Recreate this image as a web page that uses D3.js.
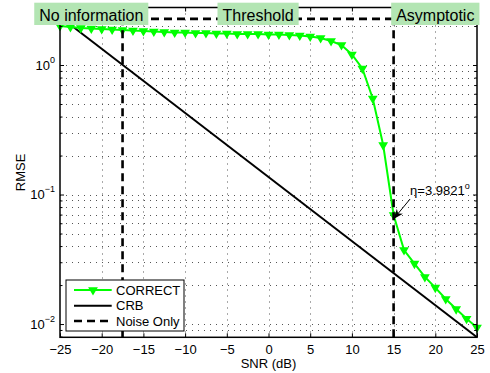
<!DOCTYPE html>
<html>
<head>
<meta charset="utf-8">
<script src="https://cdn.jsdelivr.net/npm/d3@7"></script>
<style>
  body { margin: 0; background: #fff; }
  text { font-family: 'Liberation Sans', Arial, sans-serif; fill: #000; }
</style>
</head>
<body>
<div id="chart"></div>
<script>
// data
const snrDb = [-25, -23.75, -22.5, -21.25, -20, -18.75, -17.5, -16.25, -15, -13.75,
  -12.5, -11.25, -10, -8.75, -7.5, -6.25, -5, -3.75, -2.5, -1.25,
  0, 1.25, 2.5, 3.75, 5, 6.25, 7.5, 8.75, 10, 11.25,
  12.5, 13.75, 15, 16.25, 17.5, 18.75, 20, 21.25, 22.5, 23.75, 25];
const rmseCorrect = [2.001, 1.966, 1.931, 1.914, 1.897, 1.880, 1.864, 1.847, 1.831, 1.814,
  1.798, 1.782, 1.782, 1.767, 1.767, 1.751, 1.751, 1.736, 1.736, 1.736,
  1.720, 1.720, 1.705, 1.690, 1.660, 1.616, 1.532, 1.427, 1.205, 0.940,
  0.551, 0.241, 0.0695, 0.0373, 0.0293, 0.0231, 0.0191, 0.0156, 0.01305, 0.0110, 0.0094];
const crbSnrDb = [-25, 25];
const rmseCrb = [2.36, 0.0079];
const noiseOnlyRmse = 2.27;
const regionEdgesDb = [-25, -17.5, 15, 25];
const regionLabels = ['No information', 'Threshold', 'Asymptotic'];
const xTicks = [-25, -20, -15, -10, -5, 0, 5, 10, 15, 20, 25];
const yMajorTicks = [0.01, 0.1, 1];
const yTickExp = ['\u22122', '\u22121', '0'];
const yDomain = [0.0079, 2.78];
const legendLabels = ['CORRECT', 'CRB', 'Noise Only'];
const etaSnr = 15;
const etaText = '\u03b7=3.9821';

const W = 490, H = 373;
const pLeft = 60, pRight = 477, pTop = 7.5, pBottom = 337.3;
const green = '#00ff00';
const labelFill = '#b3e5b3';

const svg = d3.select('#chart').append('svg')
  .attr('width', W).attr('height', H);

svg.append('rect').attr('width', W).attr('height', H).attr('fill', '#fff');

const x = d3.scaleLinear().domain([-25, 25]).range([pLeft, pRight]);
const y = d3.scaleLog().domain(yDomain).range([pBottom, pTop]);

const allYTicks = y.ticks().filter(v => v >= yDomain[0] && v <= yDomain[1]);
const minorYTicks = allYTicks.filter(v => !yMajorTicks.some(m => Math.abs(m - v) < 1e-9));

// grid
const grid = svg.append('g').attr('stroke', '#555').attr('stroke-width', 1)
  .attr('stroke-dasharray', '1,5');
grid.selectAll('.gx').data(xTicks.slice(1, -1)).join('line')
  .attr('x1', d => Math.round(x(d)) + 0.5).attr('x2', d => Math.round(x(d)) + 0.5)
  .attr('y1', pTop).attr('y2', pBottom);
grid.selectAll('.gy').data(allYTicks).join('line')
  .attr('x1', pLeft).attr('x2', pRight)
  .attr('y1', d => Math.round(y(d)) + 0.5).attr('y2', d => Math.round(y(d)) + 0.5);

// CRB
const line = d3.line().x(d => x(d[0])).y(d => y(d[1]));
svg.append('path')
  .datum(crbSnrDb.map((s, i) => [s, rmseCrb[i]]))
  .attr('d', line).attr('fill', 'none').attr('stroke', '#000').attr('stroke-width', 2);

// CORRECT
const correct = snrDb.map((s, i) => [s, rmseCorrect[i]]);
svg.append('path').datum(correct)
  .attr('d', line).attr('fill', 'none').attr('stroke', green).attr('stroke-width', 2);
const tri = 'M-3.5,-2L3.5,-2L0,4Z';
svg.append('g').selectAll('path').data(correct).join('path')
  .attr('d', tri)
  .attr('transform', d => `translate(${x(d[0])},${y(d[1])})`)
  .attr('fill', green).attr('stroke', green).attr('stroke-width', 1.6);

// noise only + region boundaries
const dashed = svg.append('g').attr('stroke', '#000').attr('stroke-width', 2.6)
  .attr('stroke-dasharray', '8,5').attr('fill', 'none');
dashed.append('line')
  .attr('x1', x(-25)).attr('x2', x(25))
  .attr('y1', y(noiseOnlyRmse)).attr('y2', y(noiseOnlyRmse));
dashed.selectAll('.vb').data(regionEdgesDb.slice(1, -1)).join('line')
  .attr('x1', d => x(d)).attr('x2', d => x(d))
  .attr('y1', pBottom).attr('y2', pTop);

// axes (ticks point inward)
const fmt = d => d < 0 ? '\u2212' + (-d) : String(d);
const axB = svg.append('g').attr('transform', `translate(0,${pBottom})`)
  .call(d3.axisBottom(x).tickValues(xTicks).tickSizeInner(-4).tickSizeOuter(0)
    .tickPadding(7.5).tickFormat(fmt));
const axT = svg.append('g').attr('transform', `translate(0,${pTop})`)
  .call(d3.axisTop(x).tickValues(xTicks).tickSizeInner(-4).tickSizeOuter(0).tickFormat(''));
const axL = svg.append('g').attr('transform', `translate(${pLeft},0)`)
  .call(d3.axisLeft(y).tickValues(yMajorTicks).tickSizeInner(-4).tickSizeOuter(0).tickFormat(''));
const axLm = svg.append('g').attr('transform', `translate(${pLeft},0)`)
  .call(d3.axisLeft(y).tickValues(minorYTicks).tickSizeInner(-2.5).tickSizeOuter(0).tickFormat(''));
const axR = svg.append('g').attr('transform', `translate(${pRight},0)`)
  .call(d3.axisRight(y).tickValues(yMajorTicks).tickSizeInner(-4).tickSizeOuter(0).tickFormat(''));
const axRm = svg.append('g').attr('transform', `translate(${pRight},0)`)
  .call(d3.axisRight(y).tickValues(minorYTicks).tickSizeInner(-2.5).tickSizeOuter(0).tickFormat(''));
[axB, axT, axL, axLm, axR, axRm].forEach(g => {
  g.select('.domain').remove();
  g.selectAll('line').attr('stroke', '#000');
});
axB.selectAll('text').attr('font-size', 13)
  .attr('font-family', "'Liberation Sans', Arial, sans-serif");

// frame
svg.append('rect').attr('x', pLeft).attr('y', pTop)
  .attr('width', pRight - pLeft).attr('height', pBottom - pTop)
  .attr('fill', 'none').attr('stroke', '#000').attr('stroke-width', 1.5);

// y tick labels 10^n
const yl = svg.append('g').attr('font-size', 13);
yMajorTicks.forEach((v, i) => {
  const t = yl.append('text').attr('x', 55).attr('y', y(v) + 4.8).attr('text-anchor', 'end');
  t.append('tspan').text('10');
  t.append('tspan').attr('dy', -7).attr('font-size', 9).text(yTickExp[i]);
});

// axis titles
svg.append('text').attr('x', (pLeft + pRight) / 2).attr('y', 367.5)
  .attr('text-anchor', 'middle').attr('font-size', 13).text('SNR (dB)');
svg.append('text').attr('transform', `translate(24.5,${(pTop + pBottom) / 2}) rotate(-90)`)
  .attr('text-anchor', 'middle').attr('font-size', 13).text('RMSE');

// legend
const lg = svg.append('g');
lg.append('rect').attr('x', 66).attr('y', 280).attr('width', 118).attr('height', 51)
  .attr('fill', '#fff').attr('stroke', '#000').attr('stroke-width', 1);
const rowY = [290, 305.7, 321];
legendLabels.forEach((lab, i) => {
  const ln = lg.append('line').attr('x1', 74).attr('x2', 111.7)
    .attr('y1', rowY[i]).attr('y2', rowY[i]).attr('stroke-width', i === 2 ? 2.6 : 2)
    .attr('stroke', i === 0 ? green : '#000');
  if (i === 2) ln.attr('stroke-dasharray', '8,5');
  lg.append('text').attr('x', 116).attr('y', rowY[i]).attr('dy', '0.36em')
    .attr('font-size', 13).text(lab);
});
lg.append('path').attr('d', tri).attr('transform', `translate(93,${rowY[0]})`)
  .attr('fill', green).attr('stroke', green).attr('stroke-width', 1.6);

// eta annotation
const etaVal = rmseCorrect[snrDb.indexOf(etaSnr)];
const tipX = x(etaSnr), tipY = y(etaVal) + 4;
svg.append('defs').append('marker')
  .attr('id', 'ah').attr('markerUnits', 'userSpaceOnUse')
  .attr('markerWidth', 12).attr('markerHeight', 10)
  .attr('refX', 10).attr('refY', 4).attr('orient', 'auto')
  .append('path').attr('d', 'M0,0L10,4L0,8L3,4Z').attr('fill', '#000');
svg.append('line')
  .attr('x1', tipX + 16.5).attr('y1', tipY - 20)
  .attr('x2', tipX).attr('y2', tipY)
  .attr('stroke', '#000').attr('stroke-width', 1).attr('marker-end', 'url(#ah)');
const et = svg.append('text').attr('x', tipX + 16.5).attr('y', tipY - 24).attr('font-size', 13);
et.append('tspan').text(etaText);
et.append('tspan').attr('dy', -6).attr('font-size', 9).text('o');

// region labels
regionLabels.forEach((lab, i) => {
  const cx = x((regionEdgesDb[i] + regionEdgesDb[i + 1]) / 2);
  const g = svg.append('g');
  const r = g.append('rect').attr('fill', labelFill);
  const t = g.append('text').attr('x', cx).attr('y', 20.5)
    .attr('text-anchor', 'middle').attr('font-size', 16).text(lab);
  const w = t.node().getComputedTextLength() + 10;
  r.attr('x', cx - w / 2).attr('y', 2.7).attr('width', w).attr('height', 22.3);
});
</script>
</body>
</html>
